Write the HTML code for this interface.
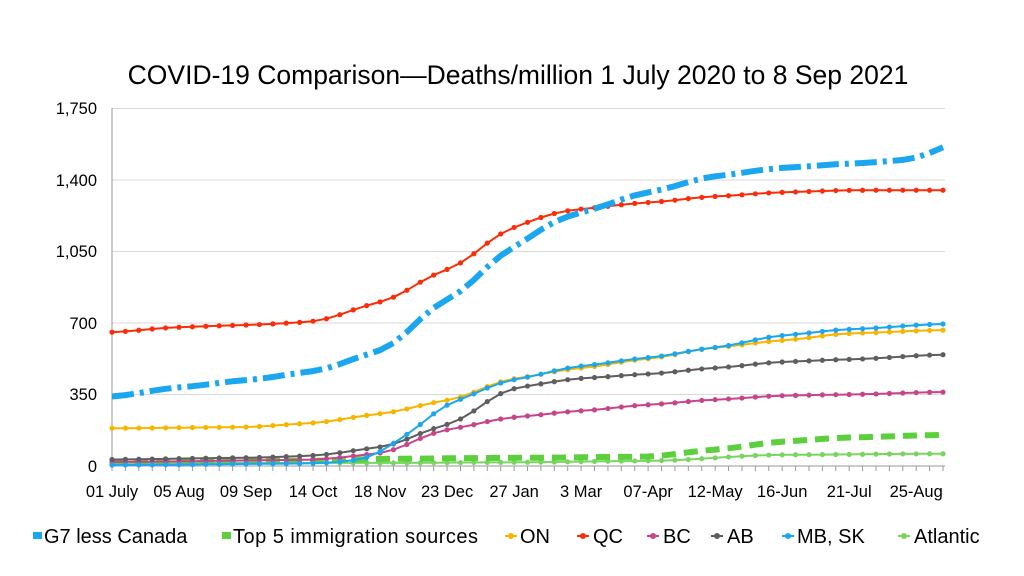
<!DOCTYPE html><html><head><meta charset="utf-8"><style>body{margin:0;background:#fff}svg{display:block;font-family:"Liberation Sans",Arial,sans-serif}</style></head><body>
<svg id="s" width="1024" height="576" xmlns="http://www.w3.org/2000/svg">
<text x="518" y="84" font-size="26.5" text-anchor="middle">COVID-19 Comparison—Deaths/million 1 July 2020 to 8 Sep 2021</text>
<g stroke="#d9d9d9" stroke-width="1">
<line x1="112" x2="945" y1="108.5" y2="108.5"/><line x1="112" x2="945" y1="180" y2="180"/><line x1="112" x2="945" y1="251.5" y2="251.5"/><line x1="112" x2="945" y1="323" y2="323"/><line x1="112" x2="945" y1="394.5" y2="394.5"/></g>
<line x1="112" x2="112" y1="108" y2="466" stroke="#999"/>
<line x1="112" x2="945" y1="466" y2="466" stroke="#999"/>
<g font-size="16.5" text-anchor="end"><text x="97" y="114">1,750</text><text x="97" y="186">1,400</text><text x="97" y="257">1,050</text><text x="97" y="329">700</text><text x="97" y="400">350</text><text x="97" y="472">0</text></g>
<g id="tk"></g><g id="xl" font-size="16.5" text-anchor="middle"></g><g id="ln"></g>
<g font-size="20">
<rect x="33" y="532" width="9" height="7" fill="#1aa7f0"/><text x="44" y="543">G7 less Canada</text>
<rect x="222" y="532" width="9" height="7" fill="#5ccf3c"/><text x="233" y="543" textLength="245">Top 5 immigration sources</text>
<line x1="505" x2="517" y1="536" y2="536" stroke="#f7b500" stroke-width="2"/><circle cx="511" cy="536" r="3" fill="#f7b500"/><text x="520" y="543">ON</text>
<line x1="577" x2="589" y1="536" y2="536" stroke="#fa2d0a" stroke-width="2"/><circle cx="583" cy="536" r="3" fill="#fa2d0a"/><text x="593" y="543">QC</text>
<line x1="647" x2="659" y1="536" y2="536" stroke="#c8448a" stroke-width="2"/><circle cx="653" cy="536" r="3" fill="#c8448a"/><text x="663" y="543">BC</text>
<line x1="711" x2="723" y1="536" y2="536" stroke="#5e5e5e" stroke-width="2"/><circle cx="717" cy="536" r="3" fill="#5e5e5e"/><text x="727" y="543">AB</text>
<line x1="782" x2="794" y1="536" y2="536" stroke="#1aa7f0" stroke-width="2"/><circle cx="788" cy="536" r="3" fill="#1aa7f0"/><text x="797" y="543">MB, SK</text>
<line x1="898" x2="910" y1="536" y2="536" stroke="#78d660" stroke-width="2"/><circle cx="904" cy="536" r="3" fill="#78d660"/><text x="914" y="543">Atlantic</text>
</g>
</svg>
<script>
var NS="http://www.w3.org/2000/svg",W=62,x0=112,dx=(943-112)/62;
function X(i){return x0+i*dx}function Y(v){return 466-v*71.5/350}
function el(t,a,p){var e=document.createElementNS(NS,t);for(var k in a)e.setAttribute(k,a[k]);p.appendChild(e);return e}
var tk=document.getElementById('tk'),xl=document.getElementById('xl'),ln=document.getElementById('ln');
for(var i=0;i<=W;i++)el('line',{x1:X(i),x2:X(i),y1:466,y2:471,stroke:'#999'},tk);
var labs=["01 July","05 Aug","09 Sep","14 Oct","18 Nov","23 Dec","27 Jan","3 Mar","07-Apr","12-May","16-Jun","21-Jul","25-Aug"];
labs.forEach(function(l,j){el('text',{x:X(j*5),y:497},xl).textContent=l});
function interp(k){var out=[];for(var i=0;i<=W;i++){for(var j=0;j<k.length-1;j++){if(i>=k[j][0]&&i<=k[j+1][0]){var a=k[j],b=k[j+1],t=(i-a[0])/(b[0]-a[0]);t=t*t*(3-2*t);out.push(a[1]+(b[1]-a[1])*t);break}}}return out}
function smooth(k){var v=interp(k);for(var p=0;p<2;p++){var n=v.slice();for(var i=1;i<W;i++)n[i]=(v[i-1]+v[i]*2+v[i+1])/4;v=n}return v}
var S=[
{c:'#78d660',k:[[0,15],[20,15],[30,18],[40,25],[50,55],[62,60]],m:1,w:2},
{c:'#5ccf3c',k:[[0,22],[15,25],[20,35],[30,40],[40,45],[45,80],[50,120],[55,140],[62,152]],d:'14 8',w:6},
{c:'#c8448a',k:[[0,20],[15,30],[20,60],[25,180],[30,240],[35,270],[40,300],[45,325],[50,345],[55,350],[62,362]],m:1,w:2},
{c:'#5e5e5e',k:[[0,32],[10,40],[15,50],[20,90],[25,200],[30,385],[35,430],[40,450],[45,480],[50,510],[55,522],[62,545]],m:1,w:2},
{c:'#f7b500',k:[[0,185],[10,190],[15,210],[20,255],[25,320],[30,430],[35,480],[40,525],[45,580],[50,615],[55,650],[62,665]],m:1,w:2},
{c:'#1aa7f0',k:[[0,5],[15,12],[19,30],[22,150],[25,310],[30,425],[35,490],[40,530],[45,580],[50,640],[55,670],[62,695]],m:1,w:2},
{c:'#fa2d0a',k:[[0,655],[5,680],[10,690],[15,705],[20,800],[25,960],[30,1170],[33,1240],[35,1260],[40,1290],[45,1320],[50,1340],[55,1350],[62,1350]],m:1,w:2},
{c:'#1aa7f0',k:[[0,340],[5,385],[10,420],[15,462],[20,560],[25,815],[30,1070],[33,1200],[35,1245],[40,1340],[45,1420],[50,1460],[55,1480],[60,1500],[62,1560]],d:'22 6 4 6',w:6}];
S.forEach(function(s){var v=smooth(s.k),d='';v.forEach(function(y,i){d+=(i?'L':'M')+X(i).toFixed(1)+' '+Y(y).toFixed(1)});
var a={d:d,fill:'none',stroke:s.c,'stroke-width':s.w,'stroke-linejoin':'round'};if(s.d)a['stroke-dasharray']=s.d;el('path',a,ln);
if(s.m)v.forEach(function(y,i){el('circle',{cx:X(i),cy:Y(y),r:2.6,fill:s.c},ln)})});
</script></body></html>
